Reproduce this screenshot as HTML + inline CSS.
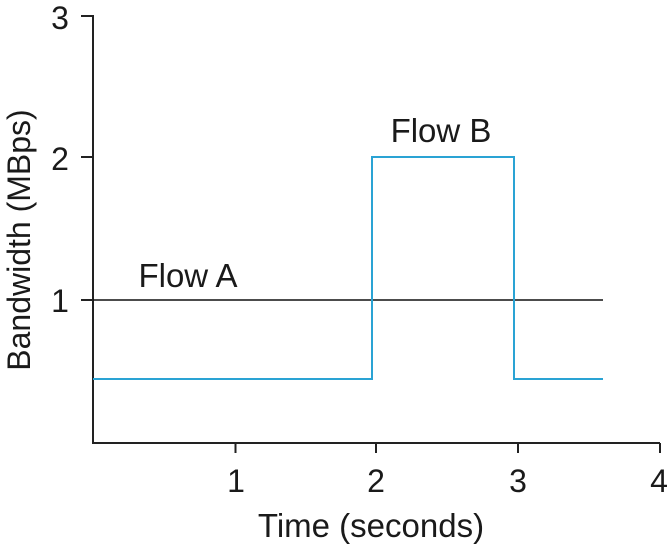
<!DOCTYPE html>
<html><head><style>body{margin:0;background:#fff}svg{display:block}text{font-family:"Liberation Sans",Arial,sans-serif;fill:#1a1a1a}</style></head>
<body>
<svg width="670" height="545" viewBox="0 0 670 545">
<g stroke="#222" stroke-width="2" fill="none">
<polyline points="81,16 93,16 93,443 660,443"/>
<line x1="81" y1="157" x2="93" y2="157"/>
<line x1="81" y1="300" x2="93" y2="300"/>
<line x1="235.5" y1="443" x2="235.5" y2="453"/>
<line x1="376" y1="443" x2="376" y2="453"/>
<line x1="518" y1="443" x2="518" y2="453"/>
<line x1="660" y1="443" x2="660" y2="453"/>
</g>
<line x1="93" y1="300" x2="603" y2="300" stroke="#111" stroke-width="1.6"/>
<polyline points="93,379 372,379 372,157 514,157 514,379 603,379" fill="none" stroke="#2aa3d4" stroke-width="2"/>
<g font-size="32" text-anchor="middle">
<text x="236" y="492">1</text><text x="376" y="492">2</text><text x="518" y="492">3</text><text x="659" y="492">4</text>
<text x="60" y="29">3</text><text x="60" y="170">2</text><text x="60" y="312">1</text>
<text x="371" y="537" font-size="33">Time (seconds)</text>
<text x="441" y="142" font-size="33">Flow B</text>
<text x="188" y="287" font-size="33">Flow A</text>
<text transform="translate(30,240) rotate(-90)" font-size="32">Bandwidth (MBps)</text>
</g>
</svg>
</body></html>
